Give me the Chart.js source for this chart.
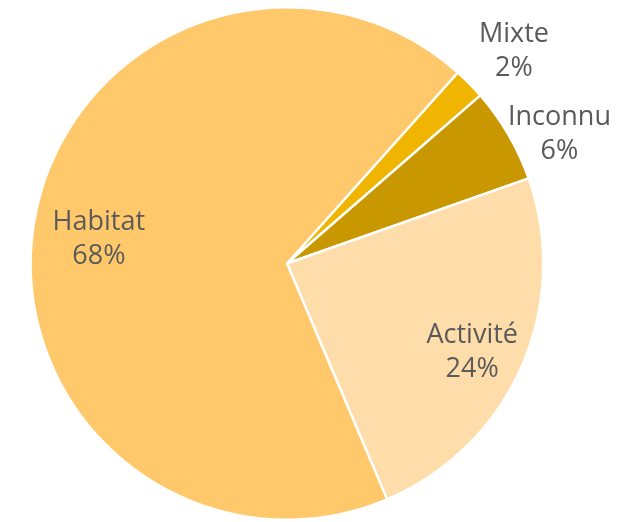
<!DOCTYPE html>
<html>
<head>
<meta charset="utf-8">
<script src="https://cdn.jsdelivr.net/npm/chart.js@4/dist/chart.umd.min.js"></script>
<style>
  html, body { margin: 0; padding: 0; background: #ffffff; }
  #wrap { width: 641px; height: 522px; position: relative; }
</style>
</head>
<body>
<div id="wrap"><canvas id="pie"></canvas></div>
<script>
// Data, clockwise from the Mixte slice
const categories = ['Mixte', 'Inconnu', 'Activité', 'Habitat'];
const shares = [2, 6, 24, 68];
const sliceColors = ['#F0B500', '#C99700', '#FFDDAA', '#FFC96B'];

// label placement: radial factor of the outer radius + small pixel nudge
const labelRadial = [1.2, 1.14, 0.79, 0.76];
const labelNudge = [[8, 2], [20, 16], [0, 5], [4, 6]];

const labelPlugin = {
  id: 'sliceLabels',
  afterDatasetsDraw(chart) {
    const ctx = chart.ctx;
    const arcs = chart.getDatasetMeta(0).data;
    const total = shares.reduce((a, b) => a + b, 0);
    ctx.save();
    ctx.fillStyle = '#5a5a5a';
    ctx.font = '27px "Open Sans", sans-serif';
    ctx.textAlign = 'center';
    ctx.textBaseline = 'middle';
    arcs.forEach((arc, i) => {
      const mid = (arc.startAngle + arc.endAngle) / 2;
      const r = arc.outerRadius * labelRadial[i];
      const x = arc.x + Math.cos(mid) * r + labelNudge[i][0];
      const y = arc.y + Math.sin(mid) * r + labelNudge[i][1];
      const pct = Math.round(shares[i] / total * 100) + '%';
      ctx.fillText(categories[i], x, y - 15);
      ctx.fillText(pct, x, y + 19);
    });
    ctx.restore();
  }
};

new Chart(document.getElementById('pie'), {
  type: 'pie',
  data: {
    labels: categories,
    datasets: [{
      data: shares,
      backgroundColor: sliceColors,
      borderColor: '#ffffff',
      borderWidth: 2.5,
    }]
  },
  options: {
    responsive: true,
    maintainAspectRatio: false,
    animation: false,
    rotation: 41.8,
    layout: { padding: { left: 29, right: 96, top: 6, bottom: 1 } },
    plugins: {
      legend: { display: false },
      tooltip: { enabled: false }
    }
  },
  plugins: [labelPlugin]
});
</script>
</body>
</html>
